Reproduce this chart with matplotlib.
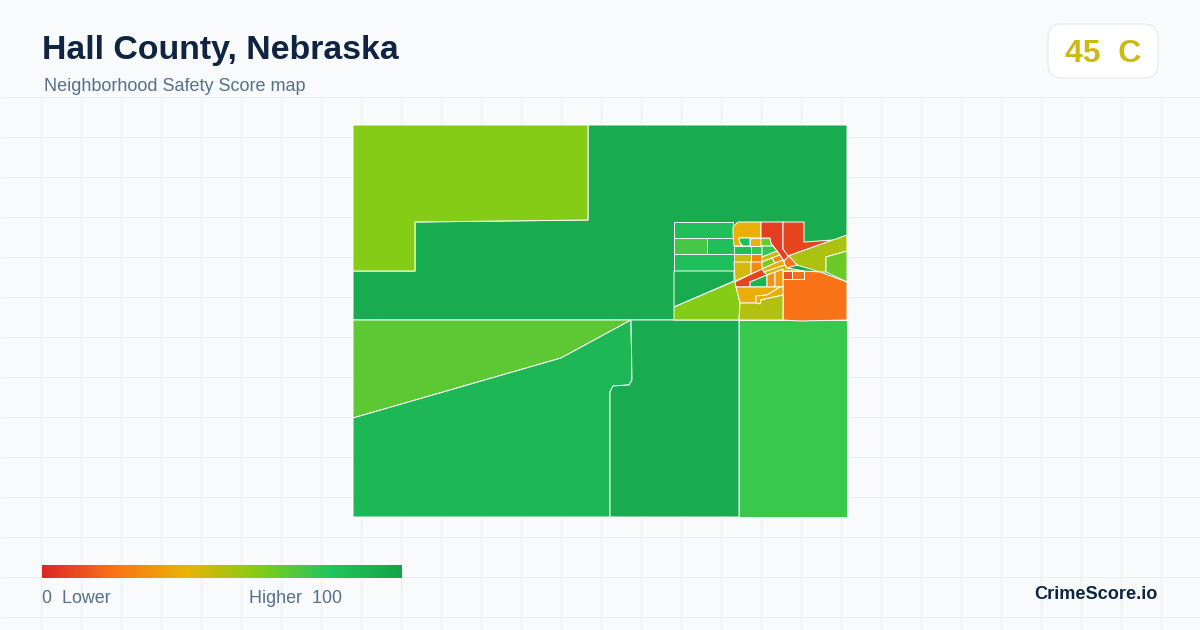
#!/usr/bin/env python3

import matplotlib
matplotlib.use('Agg')

import matplotlib.pyplot as plt
import numpy as np

from matplotlib.colors import LinearSegmentedColormap
from matplotlib.patches import FancyBboxPatch, Polygon

TITLE = 'Hall County, Nebraska'
SUBTITLE = 'Neighborhood Safety Score map'
BADGE = '45  C'
BRAND = 'CrimeScore.io'

# colour ramp of the legend
RAMP_STOPS = [0, .2, .4, .6, .8, 1]
RAMP_COLORS = ['#dc2626', '#f97316', '#eab308', '#84cc16', '#22c55e', '#16a34a']

# tract scores
RURAL_SCORES = [95, 60, 68, 88, 95, 75]
RURAL_SHAPES = [
  [(353, 271), (415, 271), (415, 222), (588, 220), (588, 125), (847, 125), (847, 320), (353, 320)],
  [(353, 125), (588, 125), (588, 220), (415, 222), (415, 271), (353, 271)],
  [(353, 320), (631, 320), (561, 358), (353, 418)],
  [(353, 418), (561, 358), (631, 320), (632, 380), (629, 385), (613, 386), (610, 392), (610, 517), (353, 517)],
  [(631, 320), (739, 320), (739, 517), (610, 517), (610, 392), (613, 386), (629, 385), (632, 380)],
  [(739, 320), (847, 320), (847, 517), (739, 517)],
]

CITY_SCORES = [
  84, 73, 84, 84, 95, 60,                     # west side blocks and wedge
  39, 84, 40, 66, 84, 76,                     # north blocks
  47, 26, 6, 8,                               # olive, orange, red cells
  52, 20, 11, 20, 65,                         # east side
  8, 90, 44, 28, 30, 33,                      # around the rail line
  38, 38, 51,                                 # south of the rail line
  76, 47, 25, 62, 38, 20, 45,                 # diagonal strips
]
CITY_SHAPES = [
  [(674, 222), (733, 222), (733, 238), (674, 238)],
  [(674, 238), (707, 238), (707, 254), (674, 254)],
  [(707, 238), (734, 238), (734, 254), (707, 254)],
  [(674, 254), (734, 254), (734, 271), (674, 271)],
  [(674, 271), (734, 271), (734, 281), (674, 307)],
  [(674, 307), (735, 281), (740, 303), (739, 320), (674, 320)],

  [(733, 227), (738, 222), (761, 222), (761, 238), (739, 238), (740, 243), (743, 246), (734, 246), (733, 233)],
  [(739, 238), (750, 238), (750, 246), (743, 246), (740, 243)],
  [(750, 238), (761, 238), (761, 246), (750, 246)],
  [(761, 238), (770, 238), (772, 246), (761, 246)],
  [(734, 246), (751, 246), (751, 254), (734, 254)],
  [(751, 246), (762, 246), (762, 254), (751, 254)],

  [(734, 254), (751, 254), (751, 262), (734, 262)],
  [(751, 254), (762, 254), (762, 262), (751, 262)],
  [(761, 222), (783, 222), (783, 249), (789, 256), (784, 261), (771, 243), (770, 238), (761, 238)],
  [(783, 222), (804, 222), (804, 242), (833, 240), (788, 256), (783, 249)],

  [(788, 256), (847, 235), (847, 251), (826, 257), (826, 272), (820, 272), (797, 265)],
  [(783, 279), (804, 279), (804, 271), (820, 272), (847, 282), (847, 320), (800, 321), (783, 320)],
  [(783, 271), (792, 271), (792, 279), (783, 279)],
  [(792, 271), (804, 271), (804, 279), (792, 279)],
  [(847, 251), (826, 257), (826, 272), (847, 282)],

  [(735, 282), (751, 274), (766, 267), (767, 275), (750, 282), (750, 287), (736, 287)],
  [(750, 282), (767, 275), (767, 287), (750, 287)],
  [(734, 262), (751, 262), (751, 274), (735, 281)],
  [(751, 262), (762, 262), (762, 269), (751, 274)],
  [(767, 275), (775, 272), (775, 287), (767, 287)],
  [(775, 272), (783, 269), (783, 287), (775, 287)],

  [(736, 287), (780, 287), (767, 295), (756, 296), (756, 303), (740, 303)],
  [(780, 287), (783, 287), (783, 295), (761, 300), (760, 304), (756, 303), (756, 296), (767, 295)],
  [(740, 303), (756, 303), (760, 304), (761, 300), (783, 295), (783, 320), (739, 320)],

  [(762, 246), (773, 246), (777, 251), (762, 257)],
  [(762, 257), (777, 251), (780, 255), (762, 262)],
  [(772, 258), (780, 255), (783, 260), (775, 263)],
  [(762, 262), (772, 258), (775, 263), (762, 269)],
  [(762, 269), (775, 263), (783, 260), (785, 265), (764, 272)],
  [(784, 261), (789, 256), (797, 265), (787, 268), (785, 265)],
  [(764, 272), (785, 265), (787, 268), (804, 271), (783, 271), (783, 269), (767, 275)],
]

BAR_SAMPLES = np.linspace(0, 1, 256)

BG_COLOR = '#f8fafc'
GRID_COLOR = '#e8f0f4'
GRID_X = range(41, 1200, 40)
GRID_Y = range(97, 630, 40)


def mk_colormap():
  return LinearSegmentedColormap.from_list('score', list(zip(RAMP_STOPS, RAMP_COLORS)))


def draw_regions(ax, shapes, scores, cmap):
  for shape, score in zip(shapes, scores):
    ax.add_patch(Polygon(shape, closed=True, facecolor=cmap(score / 100), edgecolor='white',
                         linewidth=.7, joinstyle='round', zorder=3))


def main():
  plt.rcParams['font.family'] = ['Liberation Sans', 'DejaVu Sans']
  cmap = mk_colormap()

  fig = plt.figure(figsize=(12, 6.3), dpi=100, facecolor=BG_COLOR)
  ax = fig.add_axes([0, 0, 1, 1])
  ax.set_xlim(0, 1200)
  ax.set_ylim(630, 0)
  ax.axis('off')

  ax.vlines(GRID_X, 97, 630, color=GRID_COLOR, linewidth=.75, zorder=1)
  ax.hlines(GRID_Y, 0, 1200, color=GRID_COLOR, linewidth=.75, zorder=1)

  draw_regions(ax, RURAL_SHAPES, RURAL_SCORES, cmap)
  draw_regions(ax, CITY_SHAPES, CITY_SCORES, cmap)

  ax.text(42, 59, TITLE, fontsize=24.4, fontweight='bold', color='#0f2440', zorder=5)
  ax.text(44, 91, SUBTITLE, fontsize=13, color='#567089', zorder=5)

  ax.add_patch(FancyBboxPatch((1048, 24), 110, 54, boxstyle='round,pad=0,rounding_size=14',
                              facecolor='white', edgecolor='#e2e8f0', linewidth=.75, zorder=4))
  ax.text(1103, 62, BADGE, fontsize=23, fontweight='bold', color='#cdb914', ha='center', zorder=5)

  ax.imshow(BAR_SAMPLES[np.newaxis, :], cmap=cmap, extent=(42, 402, 578, 565), aspect='auto',
            vmin=0, vmax=1, zorder=4)
  ax.set_xlim(0, 1200)
  ax.set_ylim(630, 0)
  ax.text(42, 603, '0  Lower', fontsize=12.9, color='#567089', zorder=5)
  ax.text(249, 603, 'Higher  100', fontsize=12.9, color='#567089', zorder=5)
  ax.text(1158, 599, BRAND, fontsize=13.1, fontweight='bold', color='#0f2440', ha='right', zorder=5)

  fig.savefig('out.png', dpi=100, facecolor=BG_COLOR)
  plt.close(fig)


if __name__ == '__main__':
  main()
